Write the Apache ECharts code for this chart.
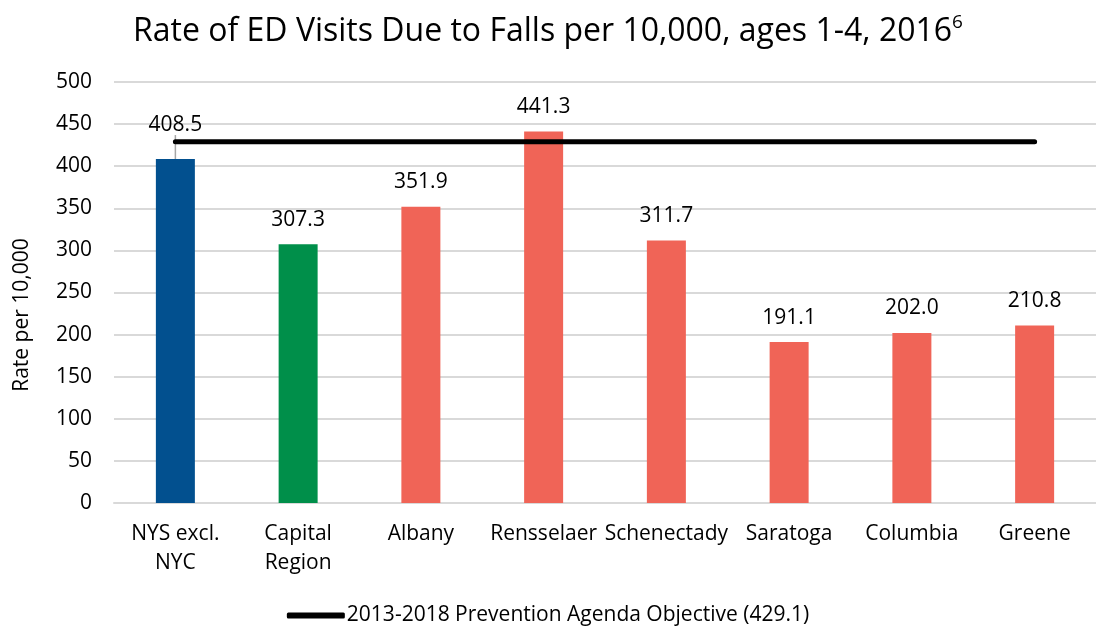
<!DOCTYPE html>
<html>
<head>
<meta charset="utf-8">
<script src="https://cdn.jsdelivr.net/npm/echarts@6/dist/echarts.min.js"></script>
<style>
  html, body { margin: 0; padding: 0; background: #fff; }
  #main { width: 1096px; height: 626px; }
</style>
</head>
<body>
<div id="main"></div>
<script>
// values
const regions = ['NYS excl.\nNYC', 'Capital\nRegion', 'Albany', 'Rensselaer', 'Schenectady', 'Saratoga', 'Columbia', 'Greene'];
const rates = [408.5, 307.3, 351.9, 441.3, 311.7, 191.1, 202.0, 210.8];
const barColors = ['#02508f', '#008f4a', '#f06457', '#f06457', '#f06457', '#f06457', '#f06457', '#f06457'];
const objective = 429.1;
const objectiveName = '2013-2018 Prevention Agenda Objective (429.1)';

const FONT = 'Open Sans';

let barData = rates.map(function (v, i) {
    let item = { value: v, itemStyle: { color: barColors[i] } };
    // first label is pushed up above the objective line, with a leader
    if (i === 0) item.labelLine = { show: true, lineStyle: { color: '#a6a6a6', width: 1.5 } };
    return item;
});
let lineData = regions.map(function () { return objective; });

let chart = echarts.init(document.getElementById('main'), null, { renderer: 'canvas' });
chart.setOption({
    animation: false,
    textStyle: { fontFamily: FONT },
    title: {
        text: '{t|Rate of ED Visits Due to Falls per 10,000, ages 1-4, 2016}{s|6}',
        left: 'center',
        top: 8,
        textStyle: {
            rich: {
                t: { fontFamily: FONT, fontSize: 32, fontWeight: 'normal', color: '#000', verticalAlign: 'bottom' },
                s: { fontFamily: FONT, fontSize: 19, fontWeight: 'normal', color: '#000', verticalAlign: 'top', padding: [0, 0, 16, 0] }
            }
        }
    },
    legend: {
        top: 600,
        left: 'center',
        itemWidth: 58,
        itemHeight: 6,
        itemGap: 2,
        data: [{ name: objectiveName, icon: 'roundRect' }],
        textStyle: { fontFamily: FONT, fontSize: 21, color: '#000', padding: [0, 0, 0, -3] }
    },
    grid: { left: 114, top: 82, width: 990, height: 421, containLabel: false },
    xAxis: {
        type: 'category',
        data: regions,
        axisLine: { lineStyle: { color: '#d9d9d9', width: 2 } },
        axisTick: { show: false },
        axisLabel: { color: '#000', fontSize: 21, fontFamily: FONT, margin: 17, lineHeight: 29, interval: 0 }
    },
    yAxis: {
        type: 'value',
        min: 0,
        max: 500,
        interval: 50,
        axisLine: { show: false },
        axisTick: { show: false },
        axisLabel: { color: '#000', fontSize: 21, fontFamily: FONT, margin: 22 },
        splitLine: { lineStyle: { color: '#d9d9d9', width: 2 } }
    },
    graphic: [{
        type: 'text',
        x: 22,
        y: 315,
        rotation: Math.PI / 2,
        style: {
            text: 'Rate per 10,000',
            fontFamily: FONT,
            fontSize: 21,
            fill: '#000',
            align: 'center',
            verticalAlign: 'middle'
        }
    }],
    series: [
        {
            type: 'bar',
            barWidth: 39,
            data: barData,
            label: {
                show: true,
                position: 'top',
                distance: 14,
                color: '#000',
                fontSize: 21,
                fontFamily: FONT,
                formatter: function (p) { return p.value.toFixed(1); }
            },
            labelLayout: function (p) {
                if (p.dataIndex === 0) return { dy: -10 };
                return {};
            },
            z: 2
        },
        {
            name: objectiveName,
            type: 'line',
            data: lineData,
            symbol: 'none',
            lineStyle: { color: '#000', width: 5, cap: 'round' },
            itemStyle: { color: '#000' },
            z: 3
        }
    ]
});
</script>
</body>
</html>
